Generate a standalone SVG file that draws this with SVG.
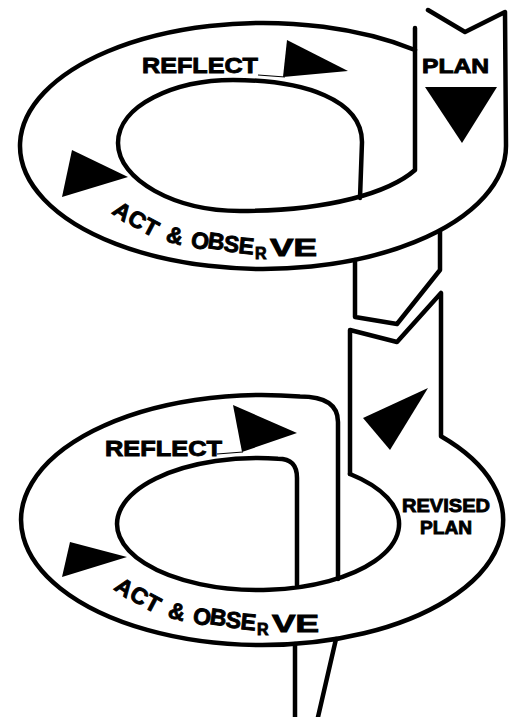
<svg xmlns="http://www.w3.org/2000/svg" width="509" height="717" viewBox="0 0 509 717">
<style>
.ln{fill:none;stroke:#000;stroke-width:4.5;stroke-linejoin:round;stroke-linecap:round}
.thin{fill:none;stroke:#000;stroke-width:1.2}
.tri{fill:#000}
.t{font-family:"Liberation Sans",Arial,sans-serif;font-weight:bold;fill:#000;stroke:#000;stroke-width:0.9}
.sm{font-size:16px}
</style>
<rect width="509" height="717" fill="#fff"/>
<g id="connectors">
  <path class="ln" d="M 355 260 L 355 317 L 397 324 L 440 270 L 440 231"/>
  <path class="ln" d="M 295 644 L 295 717 M 336 639 L 318 717"/>
</g>
<g id="spiral-top">
  <path class="ln" d="M 428 10 L 465 32 L 505 12 L 506 146 A 243 123 0 1 1 415 50"/>
  <path class="ln" d="M 415 28 L 415 170 C 390 192, 330 211, 240 211 C 175 211, 118 180, 118 143 C 118 105, 175 80, 233 80 C 305 80, 362 100, 362 142 L 360 198"/>
  <line class="thin" x1="258" y1="75" x2="285" y2="77"/>
  <polygon class="tri" points="287,40 348,71 283,77"/>
  <polygon class="tri" points="425,87 497,87 462,143"/>
  <polygon class="tri" points="72,150 128,177 62,197"/>
</g>
<g id="reflect-top"><text class="t" x="142" y="73" font-size="22" textLength="116" lengthAdjust="spacingAndGlyphs">REFLECT</text></g>
<g id="plan-top"><text class="t" x="422" y="73" font-size="20" textLength="67" lengthAdjust="spacingAndGlyphs">PLAN</text></g>
<g id="act-top"><text class="t" font-size="23" x="111 126 141 158 165 182 190 207 223 238" y="213 222 231 236 241 244 247 248 251 253" rotate="35 32 28 20 15 10 10 8 7 6">ACT &amp; OBSE<tspan class="sm" x="255" y="259" rotate="0">R</tspan><tspan x="270" y="256" rotate="0" textLength="47" lengthAdjust="spacingAndGlyphs">VE</tspan></text></g>
<g id="spiral-bottom">
  <path class="ln" d="M 350 474 L 350 330 L 397 342 L 441 293 L 441 436.3 A 241 125 0 1 1 300 396.6 C 322 396.6, 338 403, 338 422 L 338 579"/>
  <path class="ln" d="M 350 474 A 141 66 0 1 1 278 458.7 C 290 458.7, 297 464, 297 478 L 297 587"/>
  <line class="thin" x1="217" y1="454" x2="243" y2="452"/>
  <polygon class="tri" points="233,405 297,433 242,452"/>
  <polygon class="tri" points="70,542 127,557 62,577"/>
  <polygon class="tri" points="363,418 428,388 390,450"/>
</g>
<g id="reflect-bottom"><text class="t" x="105" y="456" font-size="22" textLength="117" lengthAdjust="spacingAndGlyphs">REFLECT</text></g>
<g id="revised-plan">
  <text class="t" x="402" y="512" font-size="19" textLength="88" lengthAdjust="spacingAndGlyphs">REVISED</text>
  <text class="t" x="420" y="534" font-size="19" textLength="52" lengthAdjust="spacingAndGlyphs">PLAN</text>
</g>
<g id="act-bottom" transform="translate(2,376)"><text class="t" font-size="23" x="111 126 141 158 165 182 190 207 223 238" y="213 222 231 236 241 244 247 248 251 253" rotate="35 32 28 20 15 10 10 8 7 6">ACT &amp; OBSE<tspan class="sm" x="255" y="259" rotate="0">R</tspan><tspan x="270" y="256" rotate="0" textLength="47" lengthAdjust="spacingAndGlyphs">VE</tspan></text></g>
</svg>
